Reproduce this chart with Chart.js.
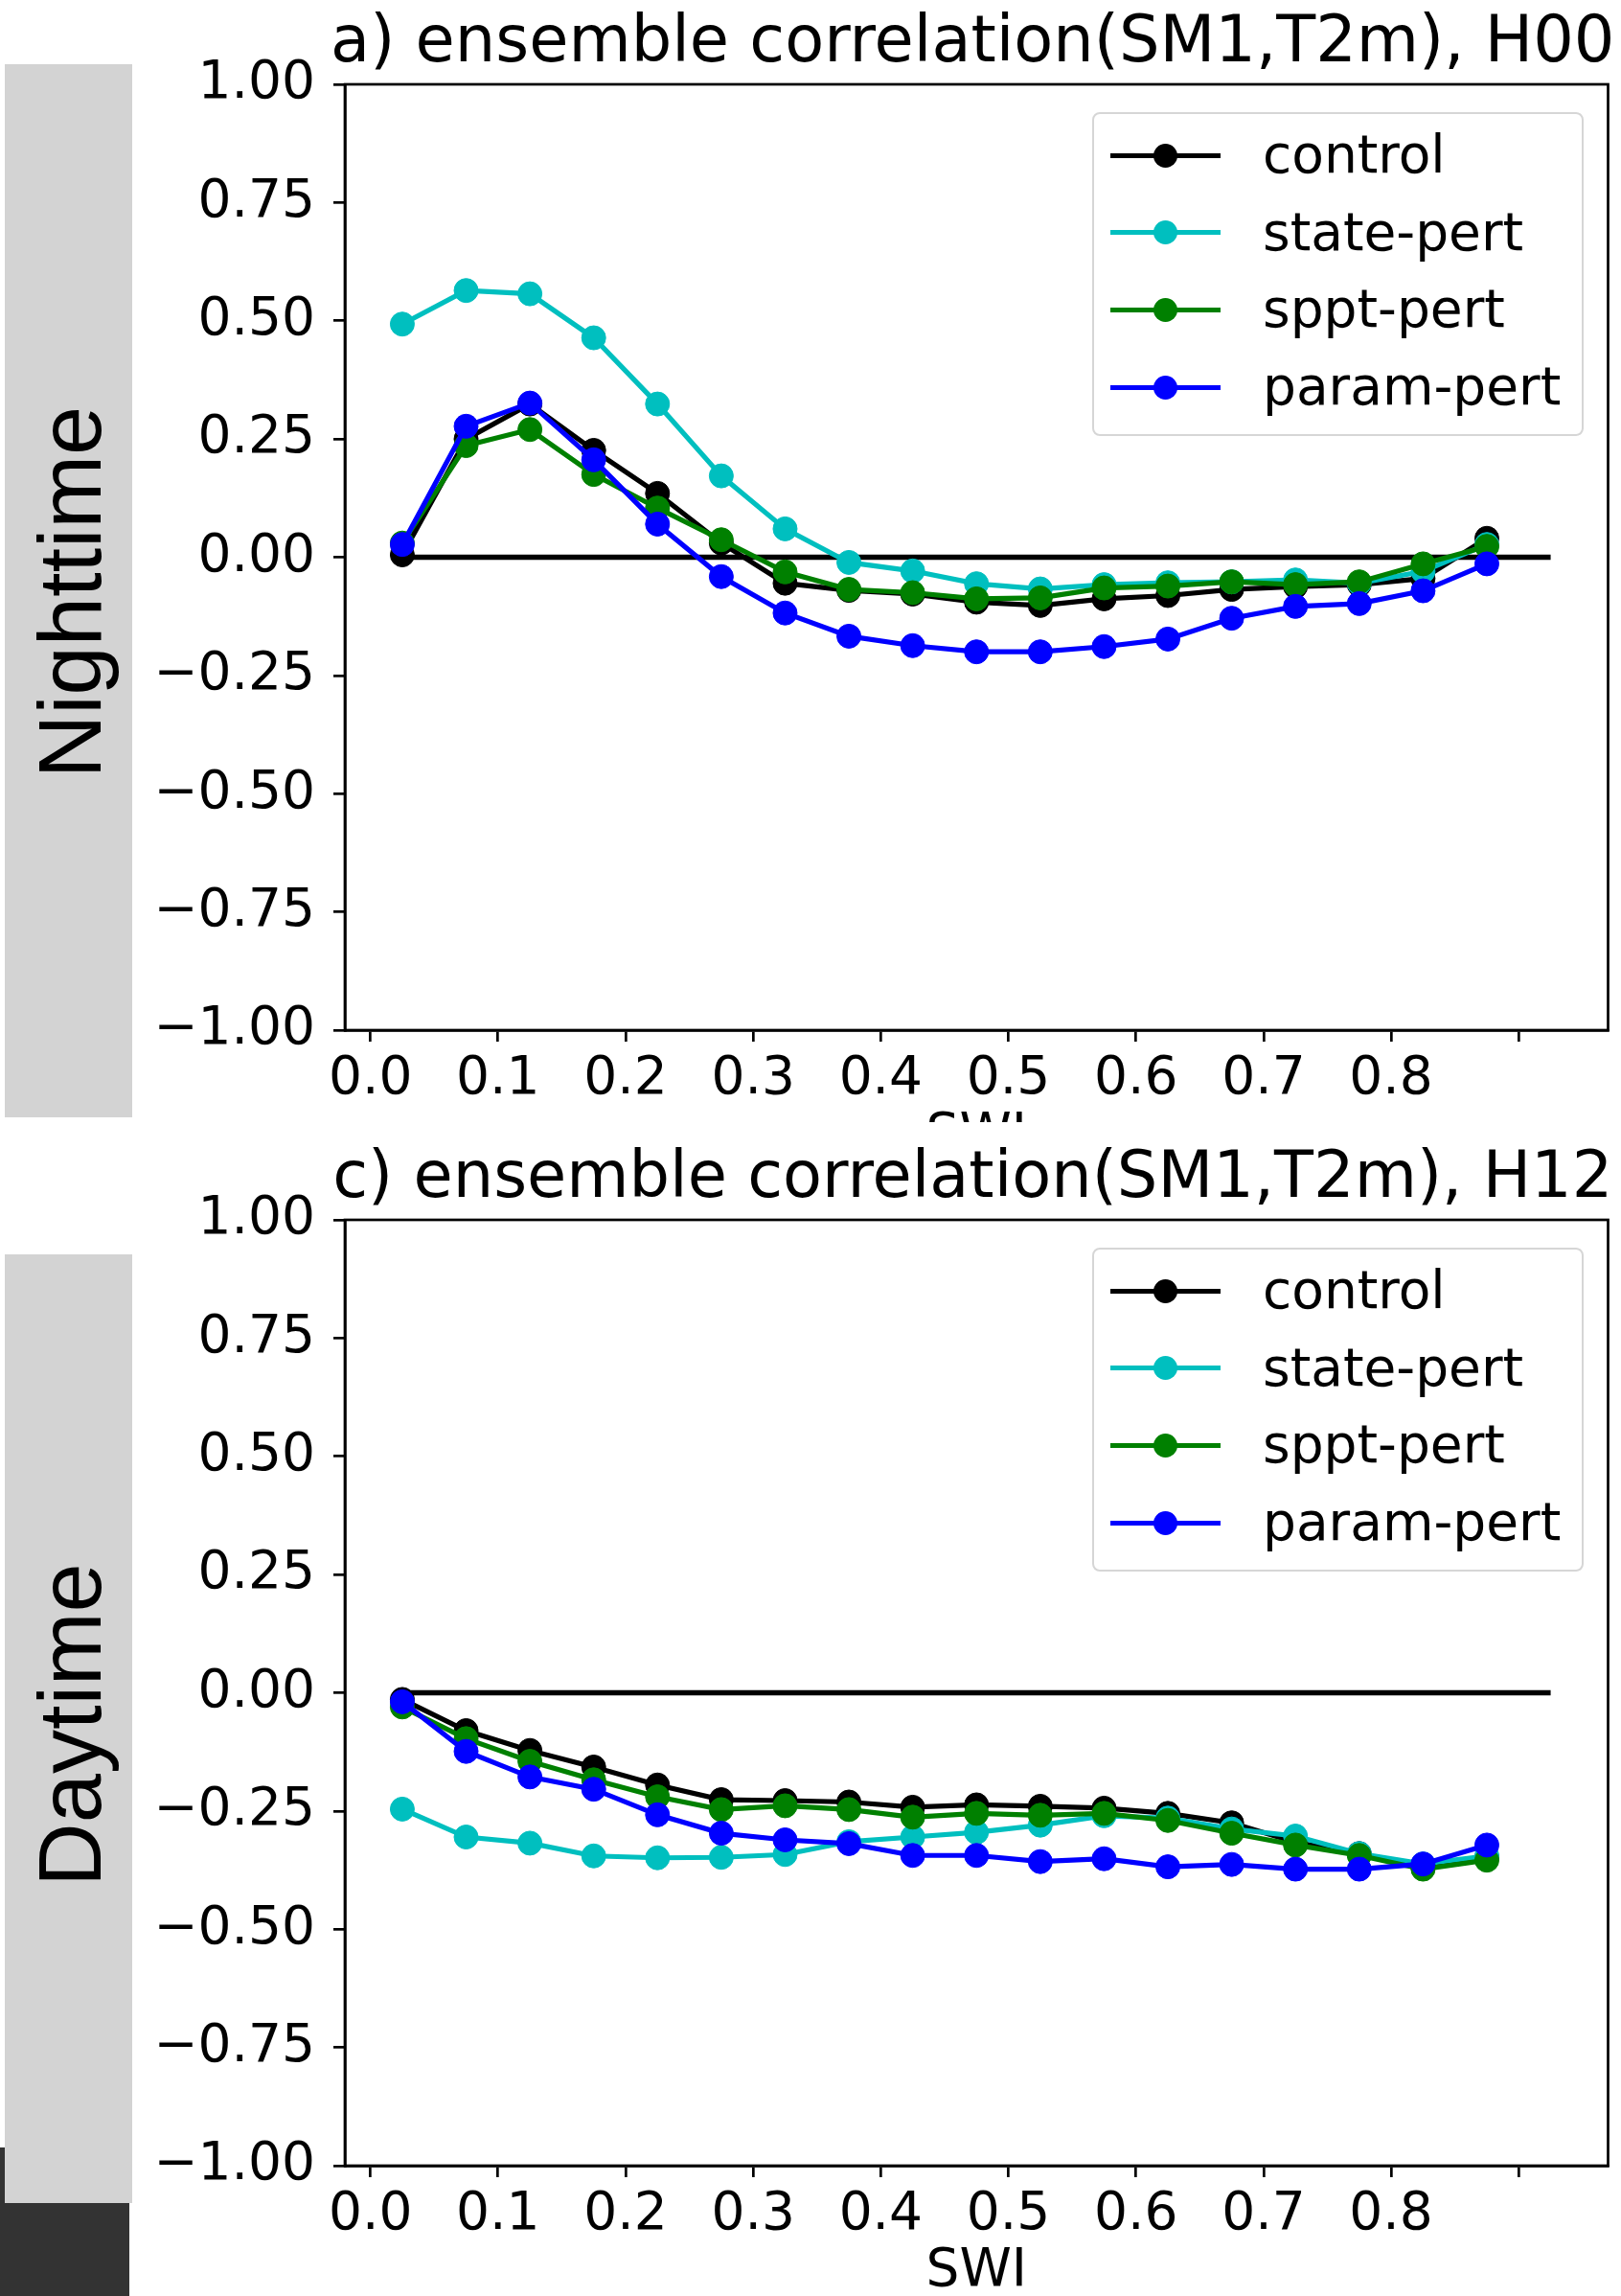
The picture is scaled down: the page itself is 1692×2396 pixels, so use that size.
<!DOCTYPE html>
<html>
<head>
<meta charset="utf-8">
<script src="https://cdn.jsdelivr.net/npm/chart.js@4.4.1/dist/chart.umd.min.js"></script>
<style>
body { margin: 0; width: 1692px; height: 2396px; overflow: hidden; background: #fff; position: relative; }
.abs { position: absolute; }
.grey { background: #d3d3d3; }
.side { font-family: 'Liberation Sans', Arial, sans-serif; font-size: 92px; white-space: nowrap; transform: translate(-50%, -50%) rotate(-90deg); color: #000; }
.legend { box-sizing: border-box; border: 2px solid #d6d6d6; border-radius: 8px; background: rgba(255,255,255,0.8); }
.legend span { position: absolute; font-family: 'DejaVu Sans', sans-serif; font-size: 55px; line-height: 66px; white-space: nowrap; color: #000; }
</style>
</head>
<body>
<div class="abs grey" style="left:5px;top:67px;width:133px;height:1099px"></div>
<div class="abs side" style="left:73px;top:618px">Nighttime</div>
<div class="abs grey" style="left:5px;top:1309px;width:133px;height:990px"></div>
<div class="abs side" style="left:73px;top:1800px">Daytime</div>
<div class="abs" style="left:0;top:2241px;width:5px;height:60px;background:#333"></div>
<div class="abs" style="left:0;top:2299px;width:135px;height:97px;background:#333"></div>

<div class="abs" style="left:0;top:0;width:1692px;height:1171px;overflow:hidden">
  <canvas id="night" width="1692" height="1240"></canvas>
</div>
<div class="abs" style="left:0;top:1185px;width:1692px;height:1240px">
  <canvas id="day" width="1692" height="1240"></canvas>
</div>
<div id="leg1" class="abs legend" style="left:1140px;top:117px;width:513px;height:338px"></div>
<div id="leg2" class="abs legend" style="left:1140px;top:1302px;width:513px;height:338px"></div>

<script>
// SWI bin centres
var swi = [0.025, 0.075, 0.125, 0.175, 0.225, 0.275, 0.325, 0.375, 0.425,
           0.475, 0.525, 0.575, 0.625, 0.675, 0.725, 0.775, 0.825, 0.875];

// H00 (nighttime)
var nightControl = [0.005, 0.25, 0.324, 0.226, 0.135, 0.03, -0.055, -0.07, -0.078,
                    -0.095, -0.102, -0.088, -0.081, -0.068, -0.062, -0.058, -0.045, 0.04];
var nightState = [0.493, 0.564, 0.557, 0.464, 0.324, 0.172, 0.06, -0.011, -0.029,
                  -0.056, -0.067, -0.058, -0.054, -0.052, -0.048, -0.055, -0.03, 0.027];
var nightSppt = [0.03, 0.236, 0.27, 0.175, 0.104, 0.037, -0.031, -0.068, -0.075,
                 -0.088, -0.086, -0.065, -0.061, -0.052, -0.058, -0.052, -0.014, 0.023];
var nightParam = [0.027, 0.277, 0.326, 0.206, 0.07, -0.041, -0.118, -0.167, -0.187,
                  -0.2, -0.2, -0.189, -0.173, -0.129, -0.104, -0.098, -0.071, -0.014];

// H12 (daytime)
var dayControl = [-0.014, -0.08, -0.122, -0.157, -0.195, -0.226, -0.228, -0.231, -0.242,
                  -0.237, -0.24, -0.244, -0.255, -0.275, -0.316, -0.34, -0.37, -0.348];
var dayState = [-0.246, -0.305, -0.318, -0.345, -0.349, -0.348, -0.342, -0.315, -0.305,
                -0.295, -0.28, -0.26, -0.265, -0.288, -0.303, -0.34, -0.362, -0.345];
var daySppt = [-0.03, -0.097, -0.145, -0.184, -0.22, -0.247, -0.239, -0.247, -0.263,
               -0.255, -0.259, -0.255, -0.27, -0.297, -0.322, -0.344, -0.373, -0.354];
var dayParam = [-0.019, -0.124, -0.178, -0.204, -0.258, -0.297, -0.311, -0.319, -0.344,
                -0.344, -0.357, -0.351, -0.368, -0.363, -0.373, -0.373, -0.362, -0.322];

var seriesNames = ["control", "state-pert", "sppt-pert", "param-pert"];
var seriesColors = ["#000000", "#00bfbf", "#008000", "#0000ff"];

var zeroX = [0.025, 0.925];
var zeroY = [0, 0];

var xTicks = [0, 0.1, 0.2, 0.3, 0.4, 0.5, 0.6, 0.7, 0.8, 0.9];
var xTickLabels = ["0.0", "0.1", "0.2", "0.3", "0.4", "0.5", "0.6", "0.7", "0.8", ""];
var yTicks = [-1, -0.75, -0.5, -0.25, 0, 0.25, 0.5, 0.75, 1];

var FONT = "'DejaVu Sans', sans-serif";

function pairs(xs, ys) {
	var out = [];
	for (var i = 0; i < xs.length; i++) out.push({x: xs[i], y: ys[i]});
	return out;
}

// matplotlib style: full box round the axes and a title centred over it
var framePlugin = {
	id: 'frame',
	afterDraw: function(chart) {
		var a = chart.chartArea, ctx = chart.ctx;
		ctx.save();
		ctx.strokeStyle = '#000';
		ctx.lineWidth = 2.7;
		ctx.strokeRect(a.left, a.top, a.right - a.left, a.bottom - a.top);
		ctx.fillStyle = '#000';
		ctx.font = '67px ' + FONT;
		ctx.textAlign = 'center';
		ctx.textBaseline = 'alphabetic';
		ctx.fillText(chart.options.plugins.frame.title, (a.left + a.right) / 2 - 4, a.top - 24);
		ctx.restore();
	}
};

function makeChart(id, title, control, state, sppt, param) {
	var values = [control, state, sppt, param];
	var datasets = [];
	for (var i = 0; i < 4; i++) {
		datasets.push({
			label: seriesNames[i],
			data: pairs(swi, values[i]),
			borderColor: seriesColors[i],
			backgroundColor: seriesColors[i],
			pointBackgroundColor: seriesColors[i],
			pointBorderColor: seriesColors[i],
			borderWidth: 5.2,
			pointRadius: 12.5,
			pointBorderWidth: 1,
			order: 4 - i
		});
	}
	datasets.push({
		label: 'zero',
		data: pairs(zeroX, zeroY),
		borderColor: '#000',
		borderWidth: 5.5,
		pointRadius: 0,
		order: 5
	});

	return new Chart(document.getElementById(id), {
		type: 'line',
		data: { datasets: datasets },
		plugins: [framePlugin],
		options: {
			responsive: false,
			animation: false,
			devicePixelRatio: 1,
			layout: { padding: { top: 88, right: 9, left: 0, bottom: 0 } },
			plugins: {
				legend: { display: false },
				tooltip: { enabled: false },
				frame: { title: title }
			},
			scales: {
				x: {
					type: 'linear',
					min: -0.02,
					max: 0.97,
					afterBuildTicks: function(s) { s.ticks = xTicks.map(function(v) { return {value: v}; }); },
					afterFit: function(s) { s.height = 165; },
					ticks: {
						color: '#000',
						font: { family: FONT, size: 55 },
						padding: 7,
						maxRotation: 0,
						autoSkip: false,
						callback: function(v, i) { return xTickLabels[i]; }
					},
					grid: { drawOnChartArea: false, drawTicks: true, tickLength: 12, color: '#000', lineWidth: 2.7 },
					border: { display: true, color: '#000', width: 2.7 },
					title: {
						display: true,
						text: 'SWI',
						color: '#000',
						font: { family: FONT, size: 55 },
						padding: { top: 0, bottom: 21 }
					}
				},
				y: {
					min: -1,
					max: 1,
					afterBuildTicks: function(s) { s.ticks = yTicks.map(function(v) { return {value: v}; }); },
					afterFit: function(s) { s.width = 360; },
					ticks: {
						color: '#000',
						font: { family: FONT, size: 55 },
						padding: 19,
						autoSkip: false,
						callback: function(v) { return v.toFixed(2).replace('-', '\u2212'); }
					},
					grid: { drawOnChartArea: false, drawTicks: true, tickLength: 12, color: '#000', lineWidth: 2.7 },
					border: { display: true, color: '#000', width: 2.7 }
				}
			}
		}
	});
}

function makeLegend(id) {
	var box = document.getElementById(id);
	for (var i = 0; i < seriesNames.length; i++) {
		var cy = 43 + i * 80.7;
		var line = document.createElement('div');
		line.className = 'abs';
		line.style.cssText = 'left:17px;width:115px;height:5px;top:' + (cy - 2.5) + 'px;background:' + seriesColors[i];
		box.appendChild(line);
		var dot = document.createElement('div');
		dot.className = 'abs';
		dot.style.cssText = 'left:62px;width:25px;height:25px;border-radius:50%;top:' + (cy - 12.5) + 'px;background:' + seriesColors[i];
		box.appendChild(dot);
		var txt = document.createElement('span');
		txt.style.left = '176px';
		txt.style.top = (cy - 34) + 'px';
		txt.textContent = seriesNames[i];
		box.appendChild(txt);
	}
}

makeChart('night', 'a) ensemble correlation(SM1,T2m), H00', nightControl, nightState, nightSppt, nightParam);
makeChart('day', 'c) ensemble correlation(SM1,T2m), H12', dayControl, dayState, daySppt, dayParam);
makeLegend('leg1');
makeLegend('leg2');
</script>
</body>
</html>
